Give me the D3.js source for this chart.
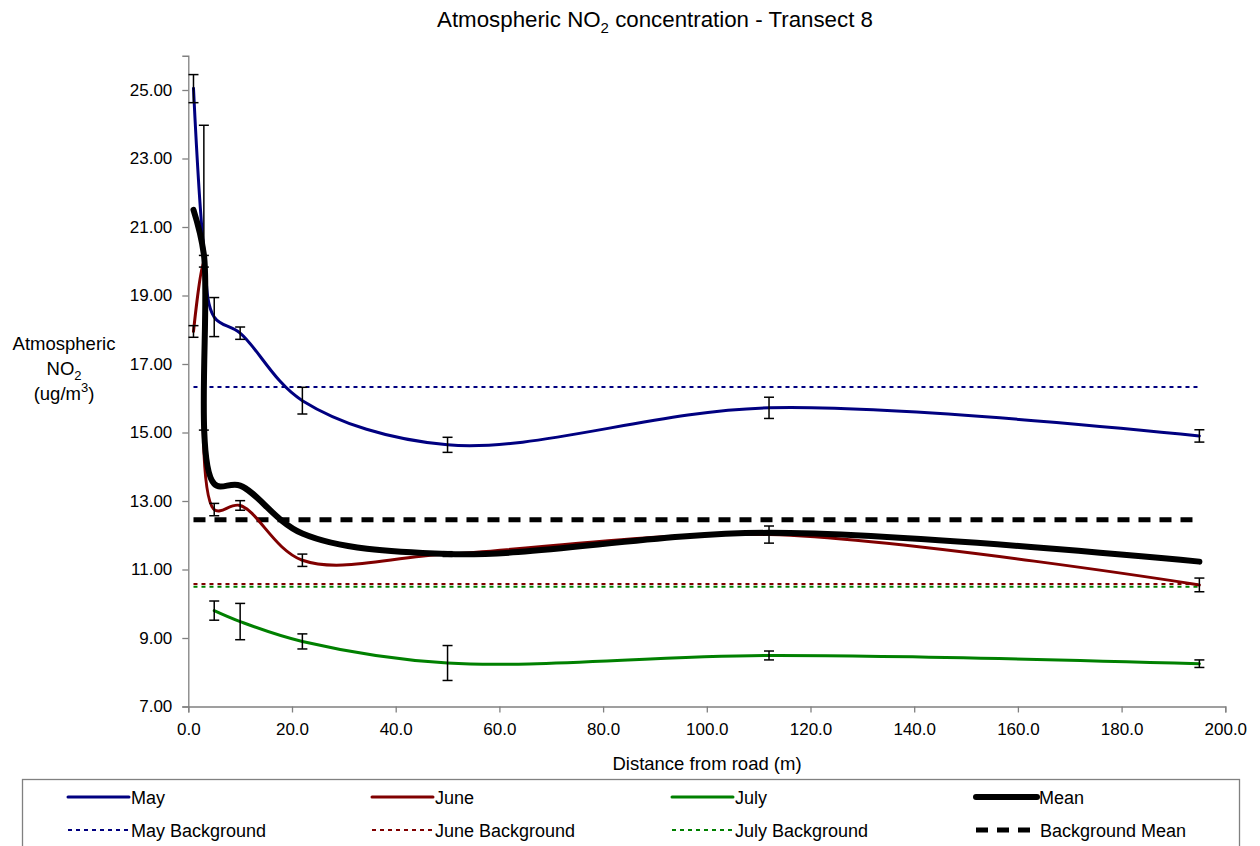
<!DOCTYPE html>
<html>
<head>
<meta charset="utf-8">
<script src="https://cdn.jsdelivr.net/npm/d3@7"></script>
<style>
	body { margin: 0; background: #fff; }
	svg text { font-family: "Liberation Sans", Arial, sans-serif; fill: #000; }
</style>
</head>
<body>
<svg id="plot" width="1260" height="846"></svg>
<script>

// distance from road (m)
const DIST = [1, 3, 5, 10, 22, 50, 112, 195];
const DIST_JULY = [5, 10, 22, 50, 112, 195];

const MAY = [25.05, 20.35, 18.37, 17.9, 15.93, 14.64, 15.72, 14.9];
const MAY_ERR_UP = [0.40, 3.62, 0.57, 0.18, 0.39, 0.22, 0.31, 0.18];
const MAY_ERR_DOWN = [0.42, 5.28, 0.57, 0.18, 0.39, 0.22, 0.31, 0.18];

const JUNE = [17.95, 20.0, 12.75, 12.87, 11.27, 11.45, 12.02, 10.55];
const JUNE_ERR = [0.17, 0.17, 0.18, 0.14, 0.18, 0.07, 0.25, 0.2];

const JULY = [9.8, 9.48, 8.9, 8.27, 8.49, 8.25];
const JULY_ERR = [0.28, 0.53, 0.22, 0.51, 0.13, 0.11];

const MEAN = [21.5, 20.2, 13.5, 13.45, 12.05, 11.45, 12.07, 11.23];

// background levels, drawn from first to last sampling distance
const BG_RANGE = [1, 195];
const MAY_BG = 16.33;
const JUNE_BG = 10.58;
const JULY_BG = 10.5;
const MEAN_BG = 12.45;

const Y_TICKS = [7, 9, 11, 13, 15, 17, 19, 21, 23, 25];
const X_TICKS = [0, 20, 40, 60, 80, 100, 120, 140, 160, 180, 200];

const svg = d3.select('#plot');

const x = d3.scaleLinear().domain([0, 200]).range([188.3, 1225.3]);
const y = d3.scaleLinear().domain([7, 26]).range([706.5, 55.75]);

// title
const title = svg.append('text')
	.attr('x', 655).attr('y', 27)
	.attr('text-anchor', 'middle')
	.style('font-size', '22.3px');
title.append('tspan').text('Atmospheric NO');
title.append('tspan').attr('dy', 6).style('font-size', '15px').text('2');
title.append('tspan').attr('dy', -6).text(' concentration - Transect 8');

// axes
const yAxis = d3.axisLeft(y).tickValues(Y_TICKS).tickFormat(d3.format('.2f')).tickSizeOuter(0).tickSize(6).tickPadding(10);
const xAxis = d3.axisBottom(x).tickValues(X_TICKS).tickFormat(d3.format('.1f')).tickSizeOuter(0).tickSize(6).tickPadding(10);

const gy = svg.append('g').attr('transform', `translate(${x(0)},0)`).call(yAxis);
const gx = svg.append('g').attr('transform', `translate(0,${y(7)})`).call(xAxis);
[gx, gy].forEach(g => {
	g.select('.domain').attr('stroke', '#808080').attr('stroke-width', 1.3);
	g.selectAll('.tick line').attr('stroke', '#808080').attr('stroke-width', 1.3);
	g.selectAll('.tick text').style('font-size', '17px').attr('fill', '#000')
		.style('font-family', '"Liberation Sans", Arial, sans-serif');
});

// axis titles
svg.append('text').attr('x', 707).attr('y', 770).attr('text-anchor', 'middle')
	.style('font-size', '18.5px').text('Distance from road (m)');

const yt = svg.append('g').attr('transform', 'translate(64,0)').style('font-size', '18.5px');
yt.append('text').attr('y', 350).attr('text-anchor', 'middle').text('Atmospheric');
const no2 = yt.append('text').attr('y', 375).attr('text-anchor', 'middle');
no2.append('tspan').text('NO');
no2.append('tspan').attr('dy', 5).style('font-size', '13px').text('2');
const unit = yt.append('text').attr('y', 400).attr('text-anchor', 'middle');
unit.append('tspan').text('(ug/m');
unit.append('tspan').attr('dy', -8).style('font-size', '13px').text('3');
unit.append('tspan').attr('dy', 8).text(')');

// background lines
const backgrounds = [
	{ v: MAY_BG, color: '#000080', width: 2, dash: '4,4' },
	{ v: JUNE_BG, color: '#800000', width: 2, dash: '4,4' },
	{ v: JULY_BG, color: '#008000', width: 2, dash: '4,4' },
	{ v: MEAN_BG, color: '#000', width: 5, dash: '12,9' }
];
svg.selectAll('line.bg')
	.data(backgrounds)
	.enter().append('line')
	.attr('class', 'bg')
	.attr('x1', x(BG_RANGE[0])).attr('x2', x(BG_RANGE[1]))
	.attr('y1', d => y(d.v)).attr('y2', d => y(d.v))
	.attr('stroke', d => d.color)
	.attr('stroke-width', d => d.width)
	.attr('stroke-dasharray', d => d.dash);

// smoothed series lines
const line = d3.line()
	.x(d => x(d[0]))
	.y(d => y(d[1]))
	.curve(d3.curveCatmullRom.alpha(0.5));

const series = [
	{ xs: DIST, ys: MAY, color: '#000080', width: 3 },
	{ xs: DIST, ys: JUNE, color: '#800000', width: 3 },
	{ xs: DIST_JULY, ys: JULY, color: '#008000', width: 3 },
	{ xs: DIST, ys: MEAN, color: '#000', width: 6 }
];
svg.selectAll('path.series')
	.data(series)
	.enter().append('path')
	.attr('class', 'series')
	.attr('d', s => line(s.xs.map((d, i) => [d, s.ys[i]])))
	.attr('fill', 'none')
	.attr('stroke', s => s.color)
	.attr('stroke-width', s => s.width)
	.attr('stroke-linejoin', 'round')
	.attr('stroke-linecap', 'round');

// error bars
const errs = [];
DIST.forEach((d, i) => errs.push({ x: d, lo: MAY[i] - MAY_ERR_DOWN[i], hi: MAY[i] + MAY_ERR_UP[i] }));
DIST.forEach((d, i) => errs.push({ x: d, lo: JUNE[i] - JUNE_ERR[i], hi: JUNE[i] + JUNE_ERR[i] }));
DIST_JULY.forEach((d, i) => errs.push({ x: d, lo: JULY[i] - JULY_ERR[i], hi: JULY[i] + JULY_ERR[i] }));

const eb = svg.selectAll('g.err')
	.data(errs)
	.enter().append('g')
	.attr('class', 'err')
	.attr('stroke', '#000')
	.attr('stroke-width', 1.5);
eb.append('line')
	.attr('x1', d => x(d.x)).attr('x2', d => x(d.x))
	.attr('y1', d => y(d.lo)).attr('y2', d => y(d.hi));
eb.append('line')
	.attr('x1', d => x(d.x) - 5).attr('x2', d => x(d.x) + 5)
	.attr('y1', d => y(d.lo)).attr('y2', d => y(d.lo));
eb.append('line')
	.attr('x1', d => x(d.x) - 5).attr('x2', d => x(d.x) + 5)
	.attr('y1', d => y(d.hi)).attr('y2', d => y(d.hi));

// legend
svg.append('rect')
	.attr('x', 22.5).attr('y', 779.5).attr('width', 1217).attr('height', 80)
	.attr('fill', 'none').attr('stroke', '#808080').attr('stroke-width', 1.3);

const legendItems = [
	{ name: 'May', color: '#000080', width: 3, dash: null, lx: 68, row: 0 },
	{ name: 'June', color: '#800000', width: 3, dash: null, lx: 372, row: 0 },
	{ name: 'July', color: '#008000', width: 3, dash: null, lx: 672, row: 0 },
	{ name: 'Mean', color: '#000', width: 6, dash: null, lx: 976, row: 0 },
	{ name: 'May Background', color: '#000080', width: 2, dash: '4,4', lx: 68, row: 1 },
	{ name: 'June Background', color: '#800000', width: 2, dash: '4,4', lx: 372, row: 1 },
	{ name: 'July Background', color: '#008000', width: 2, dash: '4,4', lx: 672, row: 1 },
	{ name: 'Background Mean', color: '#000', width: 5, dash: '12,9', lx: 976, row: 1 }
];
const lg = svg.selectAll('g.legend')
	.data(legendItems)
	.enter().append('g')
	.attr('class', 'legend')
	.attr('transform', d => `translate(${d.lx},${797 + d.row * 33})`);
lg.append('line')
	.attr('x1', 0).attr('x2', 61).attr('y1', 0).attr('y2', 0)
	.attr('stroke', d => d.color)
	.attr('stroke-width', d => d.width)
	.attr('stroke-dasharray', d => d.dash)
	.attr('stroke-linecap', d => d.dash ? 'butt' : 'round');
lg.append('text')
	.attr('x', d => d.dash && d.width > 2 ? 64 : 63).attr('y', 6.5)
	.style('font-size', '18px')
	.text(d => d.name);

</script>
</body>
</html>
